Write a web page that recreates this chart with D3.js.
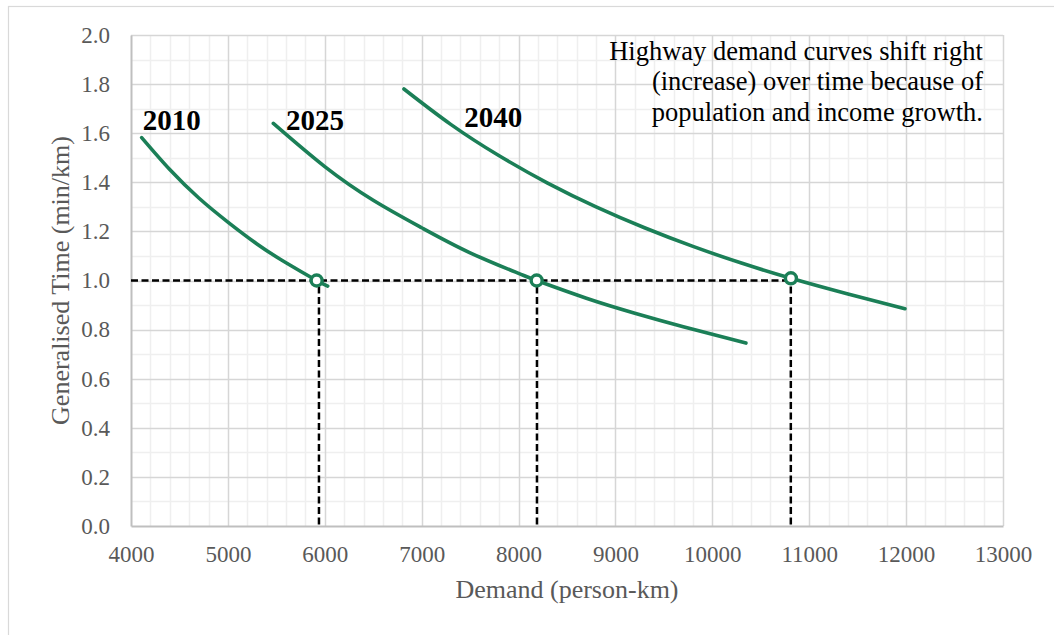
<!DOCTYPE html>
<html>
<head>
<meta charset="utf-8">
<script src="https://cdn.jsdelivr.net/npm/d3@7"></script>
<style>
  html, body { margin: 0; padding: 0; background: #ffffff; }
  svg { display: block; }
  text { font-family: "Liberation Serif", "Times New Roman", serif; }
</style>
</head>
<body>
<svg id="chart" width="1054" height="635"></svg>
<script>
// ---- data ----
const xTicks = [4000, 5000, 6000, 7000, 8000, 9000, 10000, 11000, 12000, 13000];
const yTicks = [0.0, 0.2, 0.4, 0.6, 0.8, 1.0, 1.2, 1.4, 1.6, 1.8, 2.0];

const years = ["2010", "2025", "2040"];

const demand2010 = [4110, 4400, 4700, 5000, 5300, 5600, 5916, 6030];
const time2010   = [1.582, 1.452, 1.336, 1.238, 1.149, 1.072, 1.000, 0.977];

const demand2025 = [5469, 6000, 6500, 7000, 7500, 8000, 8187, 8700, 9200, 9700, 10347];
const time2025   = [1.640, 1.464, 1.327, 1.215, 1.113, 1.029, 1.000, 0.928, 0.867, 0.812, 0.745];

const demand2040 = [6817, 7300, 7800, 8300, 8800, 9300, 9800, 10300, 10811, 11400, 11988];
const time2040   = [1.780, 1.636, 1.508, 1.397, 1.300, 1.215, 1.139, 1.071, 1.009, 0.945, 0.885];

// equilibrium points (markers) and the dashed guide lines
const eqDemand = [5916, 8187, 10811];
const eqTime   = [1.00, 1.00, 1.009];
const guideDemand = [5940, 8190, 10810];
const guideTime = 1.0;

// year label anchor positions (data coordinates)
const labelDemand = [4120, 5600, 7440];
const labelTime   = [1.612, 1.615, 1.625];

const noteLines = [
  "Highway demand curves shift right",
  "(increase) over time because of",
  "population and income growth."
];

// ---- drawing ----
const svg = d3.select("#chart");
const green = "#1b7f57";

const x = d3.scaleLinear().domain([4000, 13000]).range([131, 1003]);
const y = d3.scaleLinear().domain([0, 2]).range([526, 35]);

// outer chart border
svg.append("rect")
  .attr("x", 8.5).attr("y", 6.5)
  .attr("width", 1200).attr("height", 800)
  .attr("fill", "none").attr("stroke", "#d9d9d9").attr("stroke-width", 1.2);

// minor gridlines
const minorX = d3.range(4000, 13001, 200).filter(v => v % 1000 !== 0);
const minorY = d3.range(0, 21, 1).map(v => v / 10).filter((v, i) => i % 2 === 1);
const grid = svg.append("g");
grid.selectAll(".mx").data(minorX).join("line")
  .attr("x1", d => Math.round(x(d)) + 0.5).attr("x2", d => Math.round(x(d)) + 0.5)
  .attr("y1", y(2)).attr("y2", y(0))
  .attr("stroke", "#efefef").attr("stroke-width", 1.5);
grid.selectAll(".my").data(minorY).join("line")
  .attr("y1", d => Math.round(y(d)) + 0.5).attr("y2", d => Math.round(y(d)) + 0.5)
  .attr("x1", x(4000)).attr("x2", x(13000))
  .attr("stroke", "#efefef").attr("stroke-width", 1.5);

// major gridlines
grid.selectAll(".Mx").data(xTicks.slice(1)).join("line")
  .attr("x1", d => Math.round(x(d)) + 0.5).attr("x2", d => Math.round(x(d)) + 0.5)
  .attr("y1", y(2)).attr("y2", y(0))
  .attr("stroke", "#d6d6d6").attr("stroke-width", 1.5);
grid.selectAll(".My").data(yTicks.slice(1)).join("line")
  .attr("y1", d => Math.round(y(d)) + 0.5).attr("y2", d => Math.round(y(d)) + 0.5)
  .attr("x1", x(4000)).attr("x2", x(13000))
  .attr("stroke", "#d6d6d6").attr("stroke-width", 1.5);

// axes
const xAxis = svg.append("g").attr("transform", `translate(0,${y(0)})`)
  .call(d3.axisBottom(x).tickValues(xTicks).tickSize(0).tickPadding(20).tickFormat(d3.format("d")));
xAxis.select(".domain").attr("stroke", "#bfbfbf").attr("stroke-width", 2);
xAxis.selectAll("text").attr("font-size", "23px").attr("fill", "#595959")
  .attr("font-family", "Liberation Serif, serif");

const yAxis = svg.append("g").attr("transform", `translate(${x(4000)},0)`)
  .call(d3.axisLeft(y).tickValues(yTicks).tickSize(0).tickPadding(21).tickFormat(d3.format(".1f")));
yAxis.select(".domain").attr("stroke", "#bfbfbf").attr("stroke-width", 2);
yAxis.selectAll("text").attr("font-size", "23px").attr("fill", "#595959")
  .attr("font-family", "Liberation Serif, serif");

// axis titles
svg.append("text")
  .attr("x", (x(4000) + x(13000)) / 2).attr("y", 598)
  .attr("text-anchor", "middle").attr("font-size", "26px").attr("fill", "#595959")
  .text("Demand (person-km)");
svg.append("text")
  .attr("transform", `translate(69,${(y(0) + y(2)) / 2}) rotate(-90)`)
  .attr("text-anchor", "middle").attr("font-size", "26px").attr("fill", "#595959")
  .text("Generalised Time (min/km)");

// dashed guides
const dash = svg.append("g").attr("stroke", "#000").attr("stroke-width", 2.5)
  .attr("stroke-dasharray", "7,3.5").attr("fill", "none");
dash.append("line")
  .attr("x1", x(4000)).attr("x2", x(d3.max(eqDemand)))
  .attr("y1", y(guideTime)).attr("y2", y(guideTime));
dash.selectAll(".v").data(guideDemand).join("line")
  .attr("x1", d => x(d)).attr("x2", d => x(d))
  .attr("y1", y(guideTime) + 6).attr("y2", y(0));

// demand curves
const series = [
  { demand: demand2010, time: time2010 },
  { demand: demand2025, time: time2025 },
  { demand: demand2040, time: time2040 }
];
const line = d3.line().x(d => x(d[0])).y(d => y(d[1])).curve(d3.curveNatural);
svg.append("g").selectAll("path").data(series).join("path")
  .attr("d", s => line(s.demand.map((d, i) => [d, s.time[i]])))
  .attr("fill", "none").attr("stroke", green).attr("stroke-width", 3.6)
  .attr("stroke-linecap", "round");

// equilibrium markers
svg.append("g").selectAll("circle").data(eqDemand).join("circle")
  .attr("cx", d => x(d)).attr("cy", (d, i) => y(eqTime[i]))
  .attr("r", 5.5).attr("fill", "#fff").attr("stroke", green).attr("stroke-width", 3.4);

// year labels
svg.append("g").selectAll("text").data(years).join("text")
  .attr("x", (d, i) => x(labelDemand[i])).attr("y", (d, i) => y(labelTime[i]))
  .attr("font-size", "29px").attr("font-weight", "bold").attr("fill", "#000")
  .text(d => d);

// annotation
svg.append("g").selectAll("text").data(noteLines).join("text")
  .attr("x", 983).attr("y", (d, i) => 60 + i * 30.4)
  .attr("text-anchor", "end").attr("font-size", "26.5px").attr("fill", "#000")
  .text(d => d);
</script>
</body>
</html>
